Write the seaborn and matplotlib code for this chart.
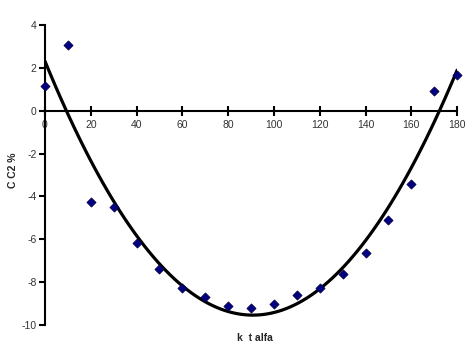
import matplotlib
matplotlib.use("Agg")
from matplotlib import pyplot as plt
import seaborn as sns
import pandas as pd

angle = [0, 10, 20, 30, 40, 50, 60, 70, 80, 90, 100, 110, 120, 130, 140, 150, 160, 170, 180]
cc2 = [1.17, 3.08, -4.25, -4.5, -6.17, -7.4, -8.25, -8.7, -9.1, -9.2, -9.0, -8.6, -8.25,
       -7.6, -6.65, -5.08, -3.4, 0.9, 1.68]
xticks = list(range(0, 181, 20))
yticks = list(range(-10, 5, 2))

df = pd.DataFrame({"angle": angle, "cc2": cc2})

sns.set_style("white")
plt.rcParams['font.family'] = ['Liberation Sans', 'DejaVu Sans']
plt.rcParams['axes.unicode_minus'] = False

fig = plt.figure(figsize=(4.77, 3.53), dpi=100)
ax = fig.add_axes([0.0943, 0.0793, 0.864, 0.85])

# polynomial trendline (order 2)
sns.regplot(x="angle", y="cc2", data=df, order=2, ci=None, scatter=False, truncate=True,
            line_kws={"color": "black", "linewidth": 2.3}, ax=ax)
sns.scatterplot(x="angle", y="cc2", data=df, marker="D", s=22, color="#000080",
                edgecolor="#000040", linewidth=0.5, zorder=5, clip_on=False, ax=ax)

ax.set_xlim(0, 180)
ax.set_ylim(-10, 4)
ax.set_xticks(xticks)
ax.set_yticks(yticks)

for side in ["top", "right"]:
    ax.spines[side].set_visible(False)
ax.spines["bottom"].set_position(("data", 0))
for side in ["left", "bottom"]:
    ax.spines[side].set_color("black")
    ax.spines[side].set_linewidth(1.5)

ax.tick_params(axis="x", bottom=True, direction="inout", length=7, width=1.5,
               labelsize=7.5, pad=3, colors="black")
ax.tick_params(axis="y", left=True, direction="out", length=4, width=1.5,
               labelsize=7.5, pad=2, colors="black")
ax.tick_params(axis="both", labelcolor="#333333")

ax.set_xlabel("k  t alfa", fontsize=7.5, fontweight="bold")
ax.xaxis.set_label_coords(0.51, -0.027)
ax.set_ylabel("C C2 %", fontsize=7.5, fontweight="bold")
ax.yaxis.set_label_coords(-0.066, 0.517)

plt.savefig("out.png", dpi=100)
